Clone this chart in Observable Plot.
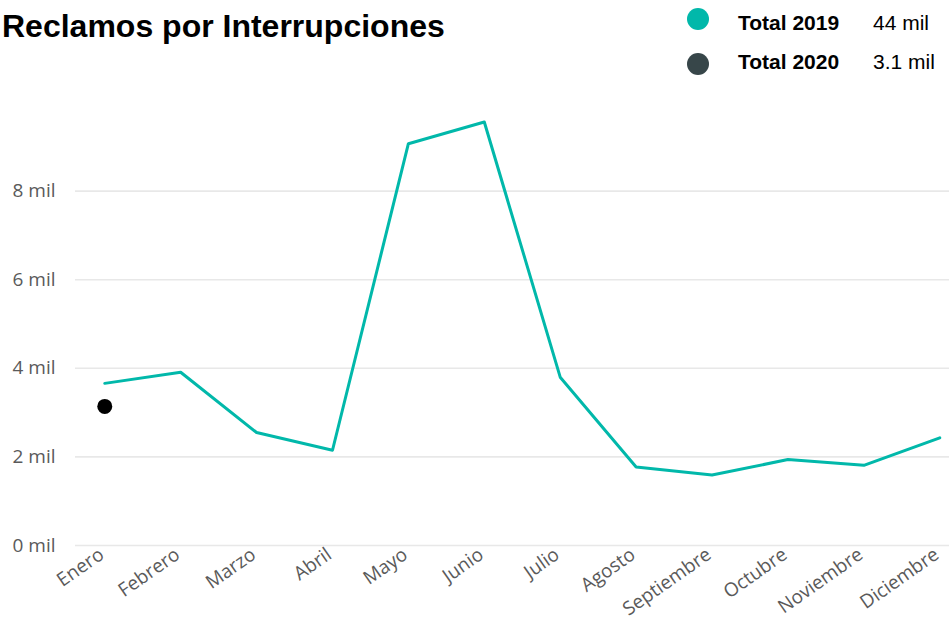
<!DOCTYPE html>
<html>
<head>
<meta charset="utf-8">
<script src="https://cdn.jsdelivr.net/npm/d3@7"></script>
<script src="https://cdn.jsdelivr.net/npm/@observablehq/plot@0.6"></script>
<style>
  html, body { margin: 0; padding: 0; background: #fff; }
  #wrap { width: 949px; height: 621px; position: relative; overflow: hidden; }
  #header { width: 949px; height: 80px; position: relative; }
  #title { position: absolute; left: 2px; top: 8px; font: bold 32px "Liberation Sans", Arial, sans-serif; color: #000; white-space: nowrap; }
  .dotl { position: absolute; width: 22px; height: 22px; border-radius: 50%; }
  .lname { position: absolute; font: bold 21px "Liberation Sans", Arial, sans-serif; color: #000; white-space: nowrap; }
  .lval { position: absolute; font: 21px "Liberation Sans", Arial, sans-serif; color: #000; white-space: nowrap; }
</style>
</head>
<body>
<div id="wrap">
  <div id="header"><div id="title">Reclamos por Interrupciones</div></div>
  <div id="chart"></div>
</div>
<script>
const months = ["Enero","Febrero","Marzo","Abril","Mayo","Junio","Julio","Agosto","Septiembre","Octubre","Noviembre","Diciembre"];
const reclamos2019 = [3660, 3910, 2550, 2150, 9070, 9560, 3800, 1770, 1590, 1940, 1810, 2430];
const reclamos2020 = [3140];
const yTicks = [0, 2000, 4000, 6000, 8000];
const seriesNames = ["Total 2019", "Total 2020"];
const seriesColors = ["#01B8AA", "#374649"];
const dotColor2020 = "#000000";

const data2019 = months.map((m, i) => ({mes: m, valor: reclamos2019[i]}));
const data2020 = reclamos2020.map((v, i) => ({mes: months[i], valor: v}));

const fmtMil = v => {
  const k = v / 1000;
  return (k >= 10 ? d3.format(".0f")(k) : d3.format(".1f")(Math.floor(k * 10) / 10)) + " mil";
};
const totals = [d3.sum(reclamos2019), d3.sum(reclamos2020)];

// legend
const header = document.getElementById("header");
const dotY = [19, 64];
const textTop = [11, 50];
seriesNames.forEach((name, i) => {
  const c = document.createElement("div");
  c.className = "dotl";
  c.style.left = (698 - 11) + "px";
  c.style.top = (dotY[i] - 11) + "px";
  c.style.background = seriesColors[i];
  header.appendChild(c);
  const n = document.createElement("div");
  n.className = "lname";
  n.textContent = name;
  n.style.left = "738px";
  n.style.top = textTop[i] + "px";
  header.appendChild(n);
  const v = document.createElement("div");
  v.className = "lval";
  v.textContent = fmtMil(totals[i]);
  v.style.left = "873px";
  v.style.top = textTop[i] + "px";
  header.appendChild(v);
});

const chart = Plot.plot({
  width: 949,
  height: 541,
  marginLeft: 75,
  marginRight: 0,
  marginTop: 22,
  marginBottom: 76,
  style: {fontFamily: '"Open Sans", sans-serif', fontSize: "19px", color: "#5f5f5f", background: "#fff", overflow: "visible"},
  x: {type: "point", domain: months, padding: 0.257, align: 0.75, round: false, label: null},
  y: {domain: [0, 10000], label: null},
  marks: [
    Plot.gridY(yTicks, {stroke: "#e8e8e8", strokeOpacity: 1, strokeWidth: 1.6}),
    Plot.axisY(yTicks, {tickSize: 0, tickPadding: 20, tickFormat: d => `${d / 1000} mil`, label: null, fill: "#5a5a5a"}),
    Plot.axisX({tickSize: 0, tickPadding: 7, tickRotate: -35, label: null, fill: "#5a5a5a", dx: -3}),
    Plot.line(data2019, {x: "mes", y: "valor", stroke: seriesColors[0], strokeWidth: 3}),
    Plot.dot(data2020, {x: "mes", y: "valor", fill: dotColor2020, r: 7.5})
  ]
});
document.getElementById("chart").appendChild(chart);
</script>
</body>
</html>
